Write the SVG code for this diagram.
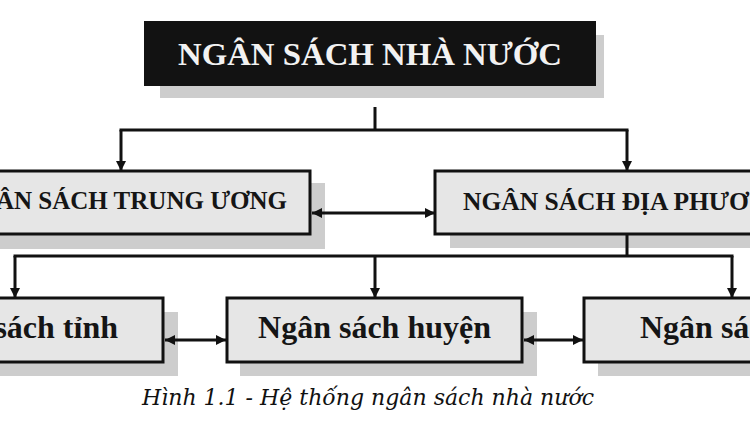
<svg xmlns="http://www.w3.org/2000/svg" width="750" height="422" viewBox="0 0 750 422">
<defs>
<style>
.shadow{fill:#cdcdcd}
.box{fill:#e6e6e6;stroke:#111;stroke-width:3}
.t{font-family:"Liberation Serif","Times New Roman",serif;font-weight:bold;fill:#151515}
.conn{fill:none;stroke:#111;stroke-width:3}
.cap{font-family:"DejaVu Serif",serif;font-style:italic;font-size:22px;fill:#111}
</style>
<marker id="ah" viewBox="0 0 10 10" refX="10" refY="5" markerWidth="11" markerHeight="10" markerUnits="userSpaceOnUse" orient="auto-start-reverse">
<path d="M0,0 L10,5 L0,10 z" fill="#111"/>
</marker>
</defs>
<rect width="750" height="422" fill="#ffffff"/>
<g id="node-ngan-sach-nha-nuoc">
<rect class="shadow" x="160" y="35" width="444" height="63" fill="#d3d3d3"/>
<rect x="144" y="21" width="452" height="65" fill="#121212"/>
<text class="t" x="370" y="65" font-size="32" text-anchor="middle" fill="#f2f2f2" style="fill:#f2f2f2" textLength="384" lengthAdjust="spacingAndGlyphs">NGÂN SÁCH NHÀ NƯỚC</text>
</g>
<g id="node-trung-uong">
<rect class="shadow" x="-10" y="183" width="335" height="66"/>
<rect class="box" x="-20" y="171" width="330" height="63"/>
<text class="t" x="287" y="209" font-size="25" text-anchor="end">ÂN SÁCH TRUNG ƯƠNG</text>
</g>
<g id="node-dia-phuong">
<rect class="shadow" x="450" y="183" width="310" height="65"/>
<rect class="box" x="435" y="171" width="330" height="63"/>
<text class="t" x="463" y="210" font-size="25.5">NGÂN SÁCH ĐỊA PHƯƠ</text>
</g>
<g id="node-tinh">
<rect class="shadow" x="-10" y="312" width="188" height="64"/>
<rect class="box" x="-20" y="298" width="183" height="64"/>
<text class="t" x="118" y="338" font-size="32" text-anchor="end">sách tỉnh</text>
</g>
<g id="node-huyen">
<rect class="shadow" x="240" y="312" width="297" height="64"/>
<rect class="box" x="227" y="298" width="295" height="64"/>
<text class="t" x="374.5" y="338" font-size="32" text-anchor="middle">Ngân sách huyện</text>
</g>
<g id="node-xa">
<rect class="shadow" x="598" y="312" width="170" height="64"/>
<rect class="box" x="584" y="298" width="180" height="64"/>
<text class="t" x="640" y="338" font-size="32">Ngân sá</text>
</g>
<g id="connectors">
<path class="conn" d="M375,107 V130 M119.5,130 H628.5 M627,235 V256 M13.5,256 H733.5"/>
<path class="conn" d="M121,130 V171" marker-end="url(#ah)"/>
<path class="conn" d="M627,130 V171" marker-end="url(#ah)"/>
<path class="conn" d="M15,256 V298" marker-end="url(#ah)"/>
<path class="conn" d="M375,256 V298" marker-end="url(#ah)"/>
<path class="conn" d="M732,256 V298" marker-end="url(#ah)"/>
<path class="conn" d="M312,213 H435" marker-start="url(#ah)" marker-end="url(#ah)"/>
<path class="conn" d="M165,340 H226" marker-start="url(#ah)" marker-end="url(#ah)"/>
<path class="conn" d="M524,340 H583" marker-start="url(#ah)" marker-end="url(#ah)"/>
</g>
<text class="cap" x="142" y="405" textLength="452" lengthAdjust="spacingAndGlyphs">Hình 1.1 - Hệ thống ngân sách nhà nước</text>
</svg>
